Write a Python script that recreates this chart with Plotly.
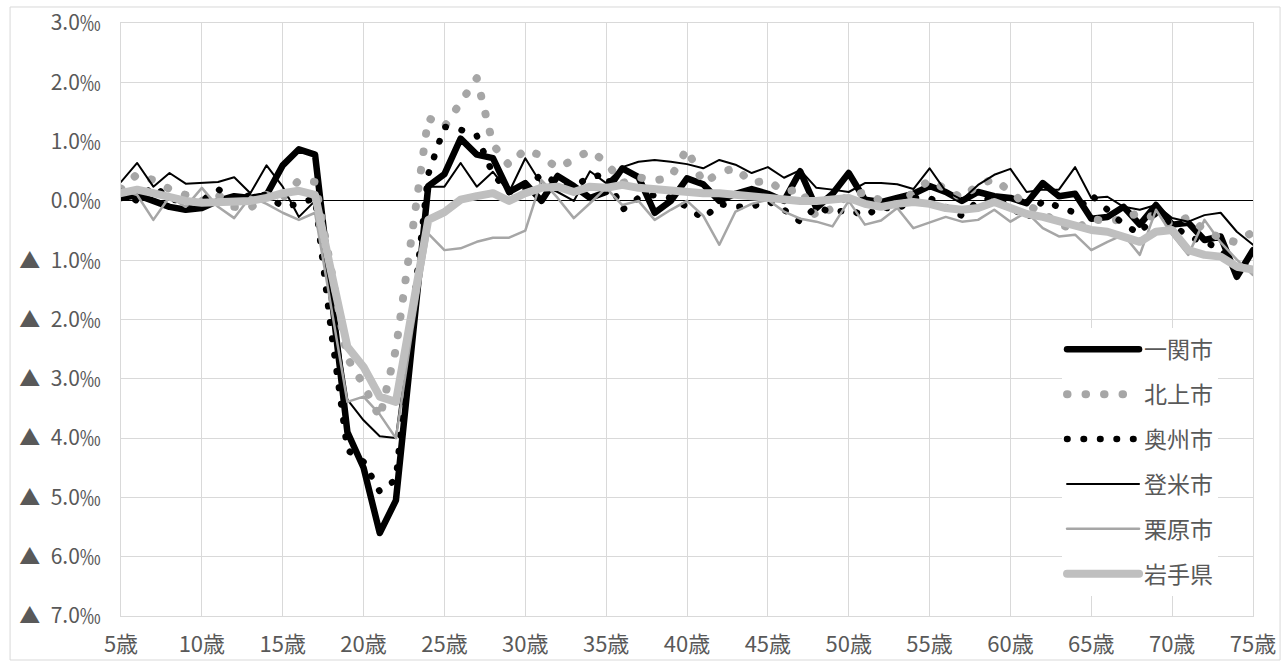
import plotly.graph_objects as go

# 年齢（5歳〜75歳）
ages = list(range(5, 76))

# 各地域の純移動率（‰）
ichinoseki = [0.05, 0.1, 0.0, -0.1, -0.15, -0.12, 0.0, 0.08, 0.05, 0.1,
              0.6, 0.87, 0.78, -1.6, -3.9, -4.5, -5.6, -5.05, -2.3, 0.25,
              0.45, 1.05, 0.78, 0.72, 0.15, 0.3, 0.0, 0.42, 0.25, 0.05,
              0.15, 0.55, 0.4, -0.2, 0.0, 0.38, 0.28, 0.0, 0.12, 0.2,
              0.12, 0.0, 0.5, -0.12, 0.12, 0.47, 0.02, -0.02, 0.05, 0.12,
              0.25, 0.15, 0.0, 0.15, 0.08, 0.05, -0.04, 0.3, 0.08, 0.12,
              -0.3, -0.27, -0.1, -0.4, -0.07, -0.4, -0.37, -0.66, -0.6, -1.28, -0.83]
kitakami = [0.2, 0.45, 0.35, 0.2, 0.1, 0.0, 0.1, -0.1, -0.12, 0.1,
            0.05, 0.35, 0.32, -1.2, -2.65, -3.1, -3.66, -2.5, -0.6, 1.4,
            1.25, 1.65, 2.07, 0.95, 0.6, 0.87, 0.76, 0.55, 0.7, 0.85,
            0.65, 0.3, 0.4, 0.34, 0.4, 0.88, 0.3, 0.47, 0.56, 0.3,
            0.35, 0.15, 0.2, -0.27, -0.12, 0.1, 0.14, 0.0, -0.07, 0.15,
            0.35, 0.2, 0.05, 0.27, 0.37, 0.15, -0.07, -0.2, -0.39, -0.49,
            -0.3, -0.35, -0.3, -0.19, -0.3, -0.4, -0.27, -0.49, -0.63, -0.7, -0.52]
oshu = [0.15, 0.0, 0.25, 0.05, -0.05, 0.0, 0.2, 0.0, 0.1, 0.1,
        -0.1, -0.05, 0.05, -2.2, -4.2, -4.4, -4.9, -4.7, -2.0, 0.45,
        1.25, 1.2, 1.1, 0.45, 0.15, 0.2, 0.45, 0.3, 0.25, 0.4,
        0.45, -0.15, 0.05, 0.1, 0.05, -0.1, -0.3, -0.05, -0.1, -0.1,
        0.0, -0.15, -0.35, -0.1, -0.2, -0.15, -0.25, -0.1, -0.15, 0.05,
        0.05, -0.1, -0.25, 0.0, 0.05, -0.1, -0.3, 0.0, -0.1, -0.2,
        0.1, -0.15, -0.4, -0.55, -0.2, -0.4, -0.6, -0.7, -0.8, -1.2, -1.05]
tome = [0.32, 0.64, 0.24, 0.47, 0.29, 0.3, 0.32, 0.4, 0.13, 0.6,
        0.24, -0.27, 0.0, -1.6, -3.35, -3.7, -3.97, -4.0, -1.9, 0.24,
        0.24, 0.64, 0.24, 0.49, 0.15, 0.72, 0.28, 0.15, 0.0, 0.5,
        0.3, 0.57, 0.66, 0.69, 0.66, 0.62, 0.55, 0.69, 0.61, 0.47,
        0.57, 0.39, 0.52, 0.22, 0.19, 0.15, 0.3, 0.3, 0.28, 0.2,
        0.55, 0.16, 0.02, 0.27, 0.44, 0.54, 0.15, 0.19, 0.19, 0.57,
        0.05, 0.07, -0.1, -0.15, -0.07, -0.29, -0.35, -0.24, -0.2, -0.52, -0.74]
kurihara = [0.19, 0.1, -0.32, 0.07, -0.1, 0.22, -0.1, -0.29, 0.07, -0.05,
            -0.2, -0.32, -0.2, -1.8, -3.39, -3.3, -3.6, -4.0, -2.2, -0.55,
            -0.83, -0.8, -0.69, -0.62, -0.62, -0.5, 0.35, 0.05, -0.29, -0.04,
            0.22, -0.07, 0.0, -0.32, -0.15, 0.0, -0.25, -0.74, -0.18, -0.05,
            0.02, -0.18, -0.3, -0.35, -0.43, 0.0, -0.4, -0.33, -0.12, -0.46,
            -0.36, -0.27, -0.35, -0.32, -0.15, -0.35, -0.19, -0.46, -0.6, -0.57,
            -0.83, -0.69, -0.57, -0.91, -0.15, -0.57, -0.91, -0.32, -0.7, -0.99, -1.25]
iwate = [0.13, 0.19, 0.13, 0.05, 0.0, -0.03, -0.02, -0.02, 0.0, 0.05,
         0.13, 0.17, 0.1, -1.2, -2.46, -2.8, -3.3, -3.39, -1.85, -0.32,
         -0.19, 0.02, 0.08, 0.13, 0.0, 0.13, 0.22, 0.24, 0.15, 0.24,
         0.22, 0.27, 0.22, 0.19, 0.19, 0.15, 0.13, 0.13, 0.1, 0.08,
         0.07, 0.03, 0.0, 0.0, 0.02, 0.05, -0.05, -0.1, -0.05, -0.02,
         -0.05, -0.12, -0.15, -0.12, -0.02, -0.12, -0.22, -0.27, -0.35, -0.43,
         -0.49, -0.52, -0.62, -0.69, -0.52, -0.49, -0.83, -0.91, -0.94, -1.11, -1.16]

series_names = ["一関市", "北上市", "奥州市", "登米市", "栗原市", "岩手県"]

# 軸目盛
x_tick_vals = list(range(5, 80, 5))
x_tick_text = [f"{v}歳" for v in x_tick_vals]
y_tick_vals = list(range(-7, 4))
y_tick_text = [f"▲\u2002{abs(v):.1f}‰" if v < 0 else f"{v:.1f}‰" for v in y_tick_vals]

FONT = "Noto Sans CJK JP"
TEXT_COLOR = "#595959"
GRID = "#d9d9d9"

styles = [
    dict(color="#000000", width=6.5, dash="solid"),
    dict(color="#a6a6a6", width=8, dash="0.5px,18px"),
    dict(color="#000000", width=6.5, dash="0.5px,16px"),
    dict(color="#000000", width=2, dash="solid"),
    dict(color="#a6a6a6", width=2.5, dash="solid"),
    dict(color="#bfbfbf", width=8, dash="solid"),
]

fig = go.Figure()
for i, (name, vals, st) in enumerate(zip(series_names,
                                         [ichinoseki, kitakami, oshu, tome, kurihara, iwate],
                                         styles)):
    fig.add_trace(go.Scatter(
        x=ages, y=vals, name=name, mode="lines",
        line=st, legendgroup=f"g{i}",
        hoverinfo="skip",
    ))

fig.update_layout(
    width=1285, height=663,
    margin=dict(l=121, r=32, t=23, b=47, autoexpand=False),
    paper_bgcolor="white", plot_bgcolor="white",
    font=dict(family=FONT, size=20, color=TEXT_COLOR),
    showlegend=True,
    legend=dict(
        x=0.8313, y=0.486, xanchor="left", yanchor="top",
        bgcolor="white", borderwidth=0,
        font=dict(family=FONT, size=23, color=TEXT_COLOR),
        itemwidth=72, tracegroupgap=12,
        traceorder="grouped",
    ),
    xaxis=dict(
        range=[5, 75], tickvals=x_tick_vals, ticktext=x_tick_text,
        tickfont=dict(size=22), automargin=False,
        showgrid=True, gridcolor=GRID, gridwidth=1,
        showline=True, linecolor=GRID, linewidth=1, mirror=True,
        zeroline=False, ticks="", ticklabelstandoff=9,
    ),
    yaxis=dict(
        range=[-7, 3], tickvals=y_tick_vals, ticktext=y_tick_text,
        tickfont=dict(size=21), automargin=False,
        showgrid=True, gridcolor=GRID, gridwidth=1,
        showline=True, linecolor=GRID, linewidth=1, mirror=True,
        zeroline=True, zerolinecolor="#000000", zerolinewidth=1,
        ticks="", ticklabelstandoff=15,
    ),
    shapes=[dict(
        type="rect", xref="paper", yref="paper",
        x0=-0.098, x1=1.0239, y0=-0.0742, y1=1.027,
        line=dict(color=GRID, width=1), fillcolor="rgba(0,0,0,0)",
    )],
)

# 線の端と角を丸める
round_caps = """
var st = document.createElement('style');
st.textContent = '.scatterlayer .js-line, .legendlines path { stroke-linecap: round; stroke-linejoin: round; }';
document.head.appendChild(st);
"""

fig.write_html("out.html", post_script=round_caps)
